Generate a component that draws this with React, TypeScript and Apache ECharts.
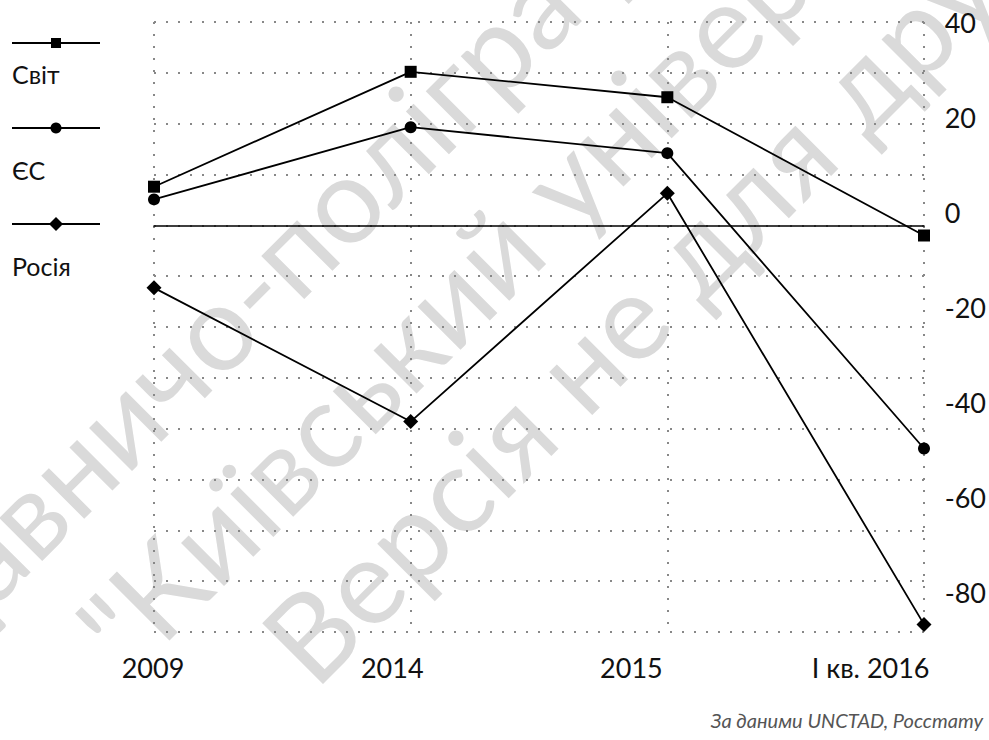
import React, { useEffect, useRef } from "react";
import * as echarts from "echarts";

const categories = ["2009", "2014", "2015", "I кв. 2016"];
const worldValues = [7.6, 30.2, 25.2, -2.0];
const euValues = [5.1, 19.3, 14.2, -43.9];
const russiaValues = [-12.3, -38.6, 6.3, -78.5];
const seriesNames = ["Світ", "ЄС", "Росія"];
const seriesSymbols = ["rect", "circle", "diamond"];
const yMin = -80;
const yMax = 40;
const gridStep = 10;
const labelStep = 20;
const sourceNote = "За даними UNCTAD, Росстату";
const watermarkLines = [
  "Видавничо-поліграфічний центр",
  "\"Київський університет\"",
  "Версія не для друку",
];

const FONT = "Lato, 'Open Sans', sans-serif";

function textWidth(text: string, fontSize: number): number {
  if (!text) return 0;
  const t = new (echarts.graphic as any).Text({
    style: { text, fontSize, fontFamily: FONT },
  });
  return t.getBoundingRect().width;
}

export default function App() {
  const ref = useRef<HTMLDivElement>(null);

  useEffect(() => {
    if (!ref.current) return;
    const chart = echarts.init(ref.current, null, { renderer: "svg" });

    const dotted = { type: [2, 10], width: 2, color: "#888888" };
    const allValues = [worldValues, euValues, russiaValues];
    const symbolSizes = [12, 12, 15];

    // legend (custom layout: line with marker, name underneath)
    const legendLineY = [43, 128, 224];
    const legendTextY = [74, 170, 266];
    const legendGraphics: any[] = [];
    seriesNames.forEach((name, i) => {
      const ly = legendLineY[i];
      legendGraphics.push({
        type: "line",
        shape: { x1: 12, y1: ly, x2: 100, y2: ly },
        style: { stroke: "#000", lineWidth: 2 },
        silent: true,
      });
      if (seriesSymbols[i] === "rect") {
        legendGraphics.push({
          type: "rect",
          shape: { x: 51, y: ly - 5, width: 10, height: 10 },
          style: { fill: "#000" },
          silent: true,
        });
      } else if (seriesSymbols[i] === "circle") {
        legendGraphics.push({
          type: "circle",
          shape: { cx: 56, cy: ly, r: 5.5 },
          style: { fill: "#000" },
          silent: true,
        });
      } else {
        legendGraphics.push({
          type: "polygon",
          shape: { points: [[56, ly - 7], [63, ly], [56, ly + 7], [49, ly]] },
          style: { fill: "#000" },
          silent: true,
        });
      }
      legendGraphics.push({
        type: "text",
        x: 12,
        y: legendTextY[i],
        style: {
          text: name,
          fontSize: 25,
          fontFamily: FONT,
          fill: "#111",
          align: "left",
          verticalAlign: "middle",
        },
        silent: true,
      });
    });

    // watermark: each line anchored so that a given fragment sits where the reference shows it
    const wmSize = 120;
    const wmAnchors = [
      { frag: "-", cx: 250, cy: 288 },
      { frag: "к", after: "Київсь", cx: 400, cy: 345 },
      { frag: "не", cx: 600, cy: 342 },
    ];
    const c45 = Math.SQRT1_2;
    const watermarkGraphics = watermarkLines.map((t, i) => {
      const a: any = wmAnchors[i];
      const idx = a.after ? t.indexOf(a.after) + a.after.length : t.indexOf(a.frag);
      const prefixW = textWidth(t.slice(0, idx), wmSize);
      const fragW = textWidth(a.frag, wmSize);
      const d = prefixW + fragW / 2;
      return {
        type: "text",
        x: a.cx - d * c45,
        y: a.cy + d * c45,
        rotation: Math.PI / 4,
        z: -10,
        silent: true,
        style: {
          text: t,
          fontSize: wmSize,
          fontFamily: FONT,
          fill: "#dadada",
          align: "left",
          verticalAlign: "middle",
        },
      };
    });

    chart.setOption({
      animation: false,
      backgroundColor: "#fff",
      grid: [
        { left: 154, top: 22, width: 770, height: 610 },
        { left: 153, top: 22.5, width: 720, height: 569.5 },
      ],
      xAxis: [
        {
          gridIndex: 0,
          type: "category",
          data: categories,
          boundaryGap: false,
          axisLine: { show: true, onZero: true, lineStyle: { color: "#000", width: 1.5 } },
          axisTick: { show: false },
          axisLabel: { show: false },
          splitLine: { show: true, interval: 0, lineStyle: dotted },
        },
        {
          gridIndex: 1,
          type: "category",
          data: categories,
          boundaryGap: false,
          axisLine: { show: false },
          axisTick: { show: false },
          splitLine: { show: false },
          axisLabel: {
            interval: 0,
            margin: 62,
            fontSize: 27,
            fontFamily: FONT,
            color: "#111",
          },
        },
      ],
      yAxis: [
        {
          gridIndex: 0,
          type: "value",
          min: yMin,
          max: yMax,
          interval: gridStep,
          axisLine: { show: false },
          axisTick: { show: false },
          axisLabel: { show: false },
          splitLine: { show: true, lineStyle: dotted },
        },
        {
          gridIndex: 1,
          type: "value",
          position: "right",
          min: yMin,
          max: yMax,
          interval: labelStep,
          axisLine: { show: false },
          axisTick: { show: false },
          splitLine: { show: false },
          axisLabel: {
            margin: 74,
            fontSize: 27,
            fontFamily: FONT,
            color: "#111",
            align: "left",
          },
        },
      ],
      series: seriesNames.map((name, i) => ({
        name,
        type: "line",
        xAxisIndex: 0,
        yAxisIndex: 0,
        data: allValues[i],
        symbol: seriesSymbols[i],
        symbolSize: symbolSizes[i],
        showSymbol: true,
        lineStyle: { color: "#000", width: 1.8 },
        itemStyle: { color: "#000" },
        z: 5,
      })),
      graphic: [
        ...watermarkGraphics,
        ...legendGraphics,
        {
          type: "text",
          x: 983,
          y: 720,
          silent: true,
          style: {
            text: sourceNote,
            fontSize: 20,
            fontStyle: "italic",
            fontFamily: FONT,
            fill: "#555555",
            align: "right",
            verticalAlign: "middle",
          },
        },
      ],
    });

    return () => chart.dispose();
  }, []);

  return (
    <div
      ref={ref}
      style={{ position: "fixed", left: 0, top: 0, width: 989, height: 740 }}
    />
  );
}
